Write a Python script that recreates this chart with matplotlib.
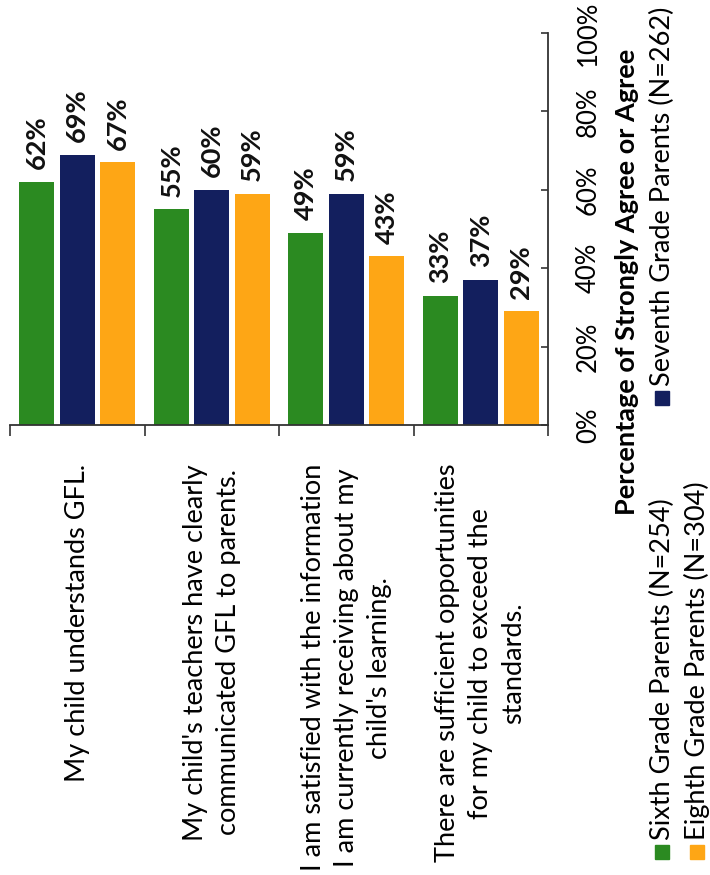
import numpy as np
import matplotlib.pyplot as plt
from matplotlib.patches import Rectangle

plt.rcParams['font.family'] = ['Lato', 'DejaVu Sans']

# --- data ---
categories = [
    "My child understands GFL.",
    "My child's teachers have clearly\ncommunicated GFL to parents.",
    "I am satisfied with the information\nI am currently receiving about my\nchild's learning.",
    "There are sufficient opportunities\nfor my child to exceed the\nstandards.",
]
series_names = [
    "Sixth Grade Parents (N=254)",
    "Seventh Grade Parents (N=262)",
    "Eighth Grade Parents (N=304)",
]
sixth = [62, 55, 49, 33]
seventh = [69, 60, 59, 37]
eighth = [67, 59, 43, 29]
value_ticks = [0, 20, 40, 60, 80, 100]
axis_title = "Percentage of Strongly Agree or Agree"

colors = ['#2b8a21', '#131f5e', '#fea615']
W, H = 710, 875

fig = plt.figure(figsize=(W / 100, H / 100), dpi=100)
ax = fig.add_axes([10 / W, 1 - 425 / H, (548 - 10) / W, (425 - 33) / H])

x = np.arange(len(categories))
width = 0.26
offsets = [-0.3, 0.0, 0.3]
for vals, off, c in zip([sixth, seventh, eighth], offsets, colors):
    bars = ax.bar(x + off, vals, width, color=c, zorder=2)
    for b, v in zip(bars, vals):
        ax.annotate(f"{v}%", (b.get_x() + b.get_width() / 2, v),
                    xytext=(0, 9), textcoords='offset points',
                    rotation=90, ha='center', va='bottom',
                    fontsize=19.5, fontweight='bold', color='#111111')

ax.set_xlim(-0.5, len(categories) - 0.5)
ax.set_ylim(0, 100)

# category axis: boundaries as ticks, labels as minor ticks
ax.set_xticks(np.arange(len(categories) + 1) - 0.5)
ax.set_xticklabels([])
ax.set_xticks(x, minor=True)
ax.set_xticklabels(categories, minor=True, rotation=90, ha='center', va='top',
                   multialignment='center', fontsize=19.5, linespacing=1.4)
ax.tick_params(axis='x', which='major', direction='out', length=8, width=1.2, color='#333333')
ax.tick_params(axis='x', which='minor', length=0, pad=28)

# value axis on the right
ax.yaxis.tick_right()
ax.set_yticks(value_ticks)
ax.set_yticklabels([f"{t}%" for t in value_ticks], rotation=90, va='center', fontsize=18.5)
ax.tick_params(axis='y', direction='in', length=5, width=1.2, color='#333333', pad=20)

for s in ['top', 'left']:
    ax.spines[s].set_visible(False)
for s in ['bottom', 'right']:
    ax.spines[s].set_color('#333333')
    ax.spines[s].set_linewidth(1.3)

fig.text(627 / W, 1 - 282 / H, axis_title, rotation=90, ha='center', va='center',
         fontsize=19.5, fontweight='bold')

# legend, drawn rotated
legend_pos = [(662, 852), (662, 398), (697, 852)]
for name, c, (lx, ly) in zip(series_names, colors, legend_pos):
    fig.patches.append(Rectangle(((lx - 7) / W, 1 - (ly + 7) / H), 14 / W, 14 / H,
                                 transform=fig.transFigure, color=c))
    fig.text(lx / W, 1 - (ly - 12) / H, name, rotation=90, ha='center', va='bottom',
             fontsize=19.5)

fig.savefig('out.png', dpi=100)
